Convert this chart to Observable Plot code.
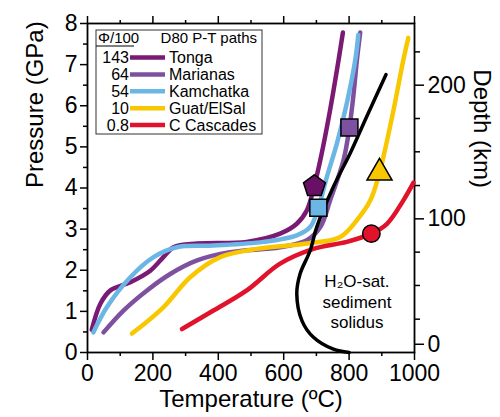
<!DOCTYPE html>
<html><head><meta charset="utf-8">
<script src="https://cdn.jsdelivr.net/npm/d3@7"></script>
<script src="https://cdn.jsdelivr.net/npm/@observablehq/plot@0.6"></script>
<style>
body{margin:0;background:#fff;}
#wrap{position:relative;width:500px;height:417px;font-family:"Liberation Sans",Arial,sans-serif;}
#legend{position:absolute;left:0;top:0;pointer-events:none;}
</style></head><body><div id="wrap"></div>
<script>
// ---- data ----
const seriesNames = ["Tonga", "Marianas", "Kamchatka", "Guat/ElSal", "C Cascades"];
const phiValues = ["143", "64", "54", "10", "0.8"];
const seriesColors = ["#7a1a74", "#7d519f", "#6cb6e6", "#f8c700", "#e1122c"];

// [Temperature °C, Pressure GPa]
const tonga = [[13,0.55],[39,1.18],[70,1.51],[131,1.71],[192,1.99],[232,2.32],[263,2.56],[335,2.65],[487,2.69],[589,2.89],[640,3.13],[671,3.46],[694,4.07],[712,4.68],[742,5.9],[768,7.12],[781,7.78]];
const marianas = [[49,0.49],[110,1.02],[182,1.51],[253,1.91],[335,2.24],[436,2.44],[589,2.56],[671,2.73],[712,3.05],[742,3.70],[783,4.68],[801,5.47],[814,6.31],[824,7.12],[834,7.78]];
const kamchatka = [[18,0.49],[59,1.1],[131,1.83],[202,2.32],[273,2.56],[385,2.60],[538,2.69],[640,2.85],[681,3.05],[706,3.52],[732,4.27],[763,5.09],[793,6.06],[819,7.12],[828,7.72]];
const guatElSal = [[136,0.46],[232,1.1],[314,1.83],[406,2.32],[518,2.52],[671,2.65],[773,2.81],[824,3.22],[865,3.70],[893,4.37],[905,4.76],[936,5.9],[966,7.12],[981,7.65]];
const cCascades = [[289,0.57],[385,1.02],[487,1.51],[589,2.16],[691,2.52],[793,2.69],[868,2.89],[916,3.13],[966,3.70],[997,4.13]];
const solidus = [[800,0],[752,0.08],[691,0.37],[656,0.77],[640,1.43],[650,1.91],[681,2.48],[701,3.05],[752,4.03],[803,4.84],[854,5.74],[913,6.76]];

const markerShapes = ["pentagon", "square", "square", "triangle", "circle"];
const markerT = [694, 801, 706, 893, 868];
const markerP = [4.07, 5.47, 3.52, 4.37, 2.89];
const markerFills = ["#6a0f66", "#7d519f", "#6cb6e6", "#f8c700", "#e1122c"];

const xMajorTicks = [0, 200, 400, 600, 800, 1000];
const xMinorTicks = [100, 300, 500, 700, 900];
const yMajorTicks = [0, 1, 2, 3, 4, 5, 6, 7, 8];
const yMinorTicks = [0.5, 1.5, 2.5, 3.5, 4.5, 5.5, 6.5, 7.5];
const depthLabels = ["0", "100", "200"];
const depthLabelGPa = [0.2, 3.25, 6.5];
const depthMinorGPa = [0.81, 1.63, 2.44, 4.06, 4.88, 5.69, 7.31];

const annotation = [{T: 824, P: 1.25, text: "H\u2082O-sat.\nsediment\nsolidus"}];

// ---- build ----
const allSeries = [tonga, marianas, kamchatka, guatElSal, cCascades];
const FONT = "'Liberation Sans', Arial, sans-serif";
const toRows = (pts) => pts.map(([T, P]) => ({T, P}));

const pentagon = {
  draw(ctx, size) {
    const R = Math.sqrt(size / Math.PI);
    for (let k = 0; k < 5; k++) {
      const a = -Math.PI / 2 + k * 2 * Math.PI / 5;
      const px = R * Math.cos(a), py = R * Math.sin(a) + R * 0.1;
      if (k === 0) ctx.moveTo(px, py); else ctx.lineTo(px, py);
    }
    ctx.closePath();
  }
};
const symbolFor = {pentagon: pentagon, square: "square", triangle: "triangle", circle: "circle"};
const sizeFor = {pentagon: 11.5, square: 9.6, triangle: 9.3, circle: 8.7};

const depthMap = new Map(depthLabelGPa.map((p, i) => [p, depthLabels[i]]));

const marks = [
  Plot.axisY({anchor: "left", ticks: yMajorTicks, tickSize: 7, tickPadding: 3, tickFormat: d => String(d), label: null, fontSize: 23, strokeWidth: 1.5}),
  Plot.axisY({anchor: "left", ticks: yMinorTicks, tickSize: 4, tickFormat: () => "", label: null, strokeWidth: 1.5}),
  Plot.axisX({anchor: "bottom", ticks: xMajorTicks, tickSize: 8, tickPadding: 4, tickFormat: d => String(d), label: null, fontSize: 23, strokeWidth: 1.5}),
  Plot.axisX({anchor: "bottom", ticks: xMinorTicks, tickSize: 4, tickFormat: () => "", label: null, strokeWidth: 1.5}),
  Plot.axisX({anchor: "top", ticks: xMajorTicks, tickSize: 8, tickFormat: () => "", label: null, strokeWidth: 1.5}),
  Plot.axisX({anchor: "top", ticks: xMinorTicks, tickSize: 4, tickFormat: () => "", label: null, strokeWidth: 1.5}),
  Plot.axisY({anchor: "right", ticks: depthLabelGPa, tickSize: 9, tickPadding: 4, tickFormat: d => depthMap.get(d), label: null, fontSize: 23, strokeWidth: 1.5}),
  Plot.axisY({anchor: "right", ticks: depthMinorGPa, tickSize: 5, tickFormat: () => "", label: null, strokeWidth: 1.5}),
  Plot.frame({stroke: "black", strokeWidth: 1.8}),
  Plot.text(["Pressure (GPa)"], {text: d => d, frameAnchor: "left", dx: -52, rotate: -90, fontSize: 24}),
  Plot.text(["Depth (km)"], {text: d => d, frameAnchor: "right", dx: 67, rotate: 90, fontSize: 24}),
  Plot.text(["Temperature (\u00baC)"], {text: d => d, frameAnchor: "bottom", dy: 54, fontSize: 24}),
];
allSeries.forEach((pts, i) => {
  marks.push(Plot.line(toRows(pts), {x: "T", y: "P", stroke: seriesColors[i], strokeWidth: 4.5, curve: "catmull-rom"}));
});
marks.push(Plot.line(toRows(solidus), {x: "T", y: "P", stroke: "black", strokeWidth: 3.5, curve: "catmull-rom"}));
markerShapes.forEach((s, i) => {
  marks.push(Plot.dot([{T: markerT[i], P: markerP[i]}], {x: "T", y: "P", symbol: symbolFor[s], r: sizeFor[s], fill: markerFills[i], stroke: "black", strokeWidth: 1.5}));
});
marks.push(Plot.text(annotation, {x: "T", y: "P", text: "text", fontSize: 17, lineHeight: 1.22}));

const chart = Plot.plot({
  width: 500, height: 417,
  marginLeft: 87, marginRight: 86, marginTop: 23, marginBottom: 65,
  x: {domain: [0, 1000]},
  y: {domain: [0, 8]},
  style: {fontFamily: FONT, fontSize: "24px", color: "black", background: "white", overflow: "visible"},
  marks
});
const wrap = document.getElementById("wrap");
wrap.appendChild(chart);

// ---- legend (overlay inside the plot frame) ----
const svg = d3.select(wrap).append("svg").attr("id", "legend")
  .attr("width", 500).attr("height", 417).style("font-family", FONT);
const bx = 96, by = 30, bw = 166, bh = 104;
svg.append("rect").attr("x", bx).attr("y", by).attr("width", bw).attr("height", bh)
  .attr("fill", "white").attr("stroke", "#333").attr("stroke-width", 1);
svg.append("text").attr("x", bx + 2).attr("y", by + 13).attr("font-size", 15).text("\u03a6/100");
svg.append("line").attr("x1", bx).attr("x2", bx + 38).attr("y1", by + 16).attr("y2", by + 16)
  .attr("stroke", "black").attr("stroke-width", 1.2);
svg.append("text").attr("x", bx + bw - 5).attr("y", by + 13).attr("font-size", 15)
  .attr("text-anchor", "end").text("D80 P-T paths");
seriesNames.forEach((name, i) => {
  const cy = by + 27.5 + i * 16.9;
  svg.append("text").attr("x", bx + 33).attr("y", cy).attr("dy", "0.35em").attr("font-size", 16)
    .attr("text-anchor", "end").text(phiValues[i]);
  svg.append("line").attr("x1", bx + 34).attr("x2", bx + 69).attr("y1", cy).attr("y2", cy)
    .attr("stroke", seriesColors[i]).attr("stroke-width", 4.5);
  svg.append("text").attr("x", bx + 73).attr("y", cy).attr("dy", "0.35em").attr("font-size", 16)
    .text(name);
});
</script></body></html>
